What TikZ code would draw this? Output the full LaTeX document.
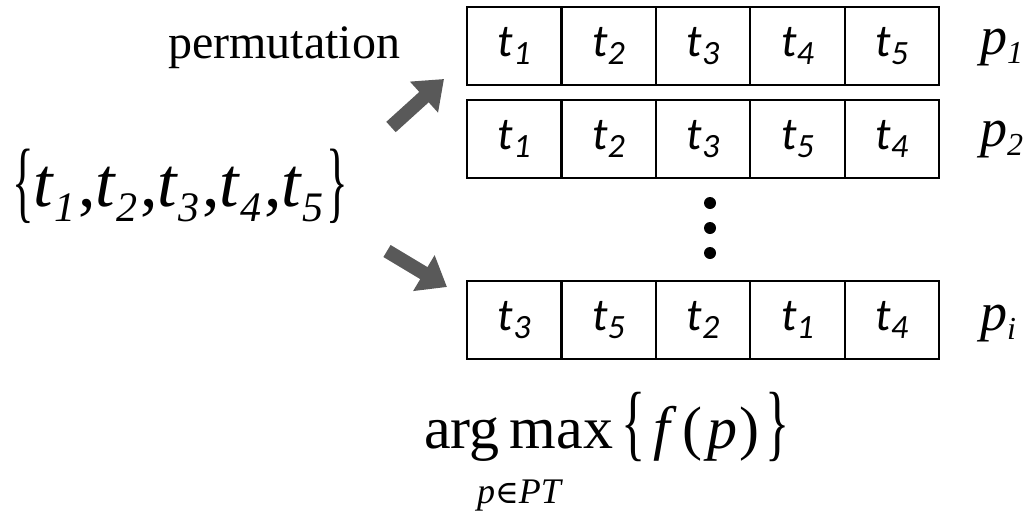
\documentclass[tikz,border=0pt]{standalone}
\usepackage{fontspec}
\setmainfont{Liberation Serif}
\newfontfamily\calfont{Carlito}
\newfontfamily\djsfont{DejaVu Serif}
\usetikzlibrary{arrows.meta}
\newcommand\tsub[1]{\textit{t\raisebox{-8pt}{\fontsize{34}{34}\selectfont #1}}}
\newcommand\ssub[1]{\textit{t\kern1pt\raisebox{-15pt}{\fontsize{42}{42}\selectfont #1}\kern3pt}}
\newcommand\psub[1]{p\raisebox{-9pt}{\fontsize{32}{32}\selectfont #1}}
\newcommand\nbrace[4]{\raisebox{#2}{\scalebox{#3}[1]{\fontsize{#1}{#1}\selectfont #4}}}
\definecolor{arrowgray}{HTML}{595959}
\begin{document}
\begin{tikzpicture}[x=1pt,y=-1pt,
  cell/.style={draw, line width=2.2pt, minimum width=94.4pt, minimum height=78pt, inner sep=0pt,
    font=\calfont\fontsize{46}{46}\selectfont},
  blockarrow/.style={draw=arrowgray, line width=14pt,
    -{Triangle[length=27pt,width=40pt]}},
  plabel/.style={font=\fontsize{54}{54}\selectfont\itshape, anchor=base west, inner sep=0pt},
  dot/.style={circle, fill=black, minimum size=12pt, inner sep=0pt}]
\useasboundingbox (0,0) rectangle (1032,512);
% rows
\foreach \lab [count=\i] in {1,2,3,4,5}
  \node[cell] (a\i) at ({467+47.2+94.4*(\i-1)}, 46) {\tsub{\lab}};
\foreach \lab [count=\i] in {1,2,3,5,4}
  \node[cell] (b\i) at ({467+47.2+94.4*(\i-1)}, 139) {\tsub{\lab}};
\foreach \lab [count=\i] in {3,5,2,1,4}
  \node[cell] (c\i) at ({467+47.2+94.4*(\i-1)}, 320) {\tsub{\lab}};
% labels
\node[plabel] (p1) at (980, 54) {\psub{1}};
\node[plabel] (p2) at (980, 146) {\psub{2}};
\node[plabel] (pi) at (980, 330) {\psub{i}};
% dots
\node[dot] (d1) at (710, 203) {};
\node[dot] (d2) at (710, 228) {};
\node[dot] (d3) at (710, 253) {};
% permutation
\node (perm) at (284, 48) {\fontsize{48}{48}\selectfont permutation};
% set
\node[anchor=base west, inner sep=0pt] (set) at (12, 206) {\fontsize{70}{70}\selectfont\nbrace{90}{-5pt}{0.5}{\{}\ssub{1},\ssub{2},\ssub{3},\ssub{4},\ssub{5}\nbrace{90}{-5pt}{0.5}{\}}};
% arrows
\coordinate (u0) at (391, 127);
\coordinate (u1) at (444, 79);
\coordinate (l0) at (387, 251);
\coordinate (l1) at (447, 287);
\draw[blockarrow] (u0) -- (u1);
\draw[blockarrow] (l0) -- (l1);
% argmax
\node[anchor=base west, inner sep=0pt] (am) at (424, 448) {\fontsize{60}{60}\selectfont arg\,max\kern8pt\nbrace{84}{-2pt}{0.6}{\{}\kern8pt\textit{f}\kern6pt(\kern5pt\textit{p}\kern2pt)\kern6pt\nbrace{84}{-2pt}{0.6}{\}}};
\node[anchor=base west, inner sep=0pt] (sub) at (477, 503) {\fontsize{36}{36}\selectfont\textit{p}{\djsfont\fontsize{32}{32}\selectfont ∈}\textit{PT}};
\end{tikzpicture}
\end{document}
